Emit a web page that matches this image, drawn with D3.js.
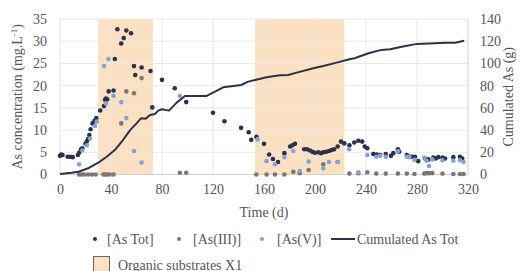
<!DOCTYPE html>
<html>
<head>
<meta charset="utf-8">
<script src="https://cdn.jsdelivr.net/npm/d3@7"></script>
<style>
  body { margin: 0; background: #fff; }
  text { font-family: "Liberation Serif", "Times New Roman", serif; }
</style>
</head>
<body>
<div id="chart"></div>
<script>
// --- DATA (day, value) ---
const asTot = [[0,4.2],[1,4.5],[2,4.4],[6,4.0],[8,4.0],[10,3.9],[14,4.4],[15,4.9],[16.5,5.7],[17.5,5.9],
  [20,6.9],[21,7.4],[22,8.0],[23,8.9],[24,10.2],[25.5,11.5],[27,12.1],[28.5,12.7],[31.5,14.4],[34.5,15.4],
  [35.3,16.8],[36,17.1],[37,16.9],[38.2,18.7],[42,18.9],[43,26],[45,32.7],[48,29.5],[50,30.7],[52,32.4],
  [55.7,31.8],[58,24.4],[59,22.4],[64,24.1],[71,23.3],[72.4,15.1],[80,21.3],[90,19.4],[99,16.3],[120,13.9],
  [129,12.0],[142,10.5],[148,9.5],[150,7.8],[154,8.5],[160,6.9],[164,4.5],[167,3.5],[171,2.8],[176,4.8],
  [180.5,6.3],[182.2,6.6],[184.3,6.9],[191.6,5.7],[193.7,5.7],[196,5.4],[198,5.1],[200,4.9],[202.6,5.0],
  [204.7,4.8],[206.5,5.0],[208.6,5.1],[211,5.3],[213,5.5],[215,5.7],[217.8,6.3],[220.4,7.4],[223,7.0],
  [227,6.6],[230.8,7.2],[234,7.6],[237,7.4],[239,6.3],[241,5.9],[245.7,4.6],[248.4,4.5],[251,4.4],
  [255.5,4.6],[259.6,4.2],[261.4,4.8],[265,5.7],[266,5.1],[272,4.4],[274.5,4.0],[276.3,4.0],[278.4,4.0],
  [281,3.0],[286.3,3.6],[288.9,3.4],[292.8,3.8],[294.7,3.6],[296.7,3.9],[300,3.8],[302,3.6],[308.5,3.9],
  [313.7,4.0],[315.5,3.6]];

const asIII = [[15,0],[17,0],[19,0],[22,0],[25,0],[28,0],[34,0],[35.5,0],[37,0],[39,0],[42,0],
  [48,11.5],[52,18.7],[58,18.3],[64,21.7],[94,0.4],[99,0.4],[154,0],[162,0],[168.6,0],[176,0],
  [183,0.6],[188,0.3],[195,1.0],[206.5,2.3],[217.8,2.8],[227,0.2],[234,0.3],[241,0.5],[248,0.2],
  [255.5,0.2],[265,0.2],[272,0.2],[278,0.1],[285.7,0.2],[287.6,0.3],[289.4,0.3],[292,0.3],[300,0.2],
  [308.5,0.1],[313.7,0.1],[316.5,0.1]];

const asV = [[15,2.3],[17.5,5.4],[21,6.6],[23.5,8.1],[27.5,10.9],[28.8,11.9],[34.5,24.4],[36,16.0],
  [38,26],[42,17.7],[48,16.3],[52,12.7],[58,5.3],[64,2.7],[94,17.7],[155,7.9],[162,3.0],[168.6,2.3],
  [176,3.9],[183,5.3],[188,0.8],[195,2.9],[206.5,1.4],[211,2.8],[217.8,2.8],[226.7,5.7],[234,0.5],
  [241,4.4],[248,4.0],[251,4.2],[255.5,4.0],[265,5.2],[272,4.0],[274,3.9],[278,3.3],[285.7,3.8],
  [287.6,3.1],[289.4,1.9],[292,3.4],[300,3.2],[308.5,3.1],[313.7,3.2],[316.5,2.8]];

const cumulated = [[0,0.4],[9,1.6],[14.6,2.5],[22,5.6],[30,10.6],[36.6,16],[43,22],[48.4,29.5],[55,40],
  [60,46],[63.5,50.6],[67.2,50.3],[70.6,53.6],[74.5,54.5],[77,57.5],[80,58.7],[85.5,57.5],[91.5,64.7],
  [98,70.7],[103,70.7],[115,70.7],[121.6,74.6],[128,78.5],[136,79.7],[142,80.6],[147.7,83.6],[153,85],
  [162,87.5],[172.5,89.3],[179,89.6],[185.6,91.7],[198.7,95.7],[206.5,97.7],[217,100.7],[227,103.8],
  [231,104.7],[242,109.2],[252,112.2],[259,112.8],[268,115.1],[280,117.6],[294,118.2],[302,118.7],
  [310,118.7],[317,120.5]];

const substratePeriods = [[30,73],[153,223]];
const xTicks = d3.range(0, 321, 40);
const yTicks = d3.range(0, 36, 5);
const y2Ticks = d3.range(0, 141, 20);

function drawChart() {
  // --- LAYOUT ---
  const W = 521, H = 271;
  const pLeft = 60, pRight = 468, pTop = 19, pBottom = 174.5;

  const svg = d3.select("#chart").append("svg").attr("width", W).attr("height", H);

  const x = d3.scaleLinear().domain([0, 320]).range([pLeft, pRight]);
  const y = d3.scaleLinear().domain([0, 35]).range([pBottom, pTop]);
  const y2 = d3.scaleLinear().domain([0, 140]).range([pBottom, pTop]);

  const cTot = "#2c3048", cIII = "#7d7672", cV = "#84a2d8", cShade = "#fbe0c1";

  // shaded periods
  svg.selectAll("rect.shade").data(substratePeriods).enter().append("rect")
    .attr("x", d => x(d[0])).attr("width", d => x(d[1]) - x(d[0]))
    .attr("y", pTop).attr("height", pBottom - pTop)
    .attr("fill", cShade);

  // gridlines
  svg.selectAll("line.hg").data(yTicks.slice(1)).enter().append("line")
    .attr("x1", pLeft).attr("x2", pRight)
    .attr("y1", d => y(d)).attr("y2", d => y(d))
    .attr("stroke", "#e8e8e8").attr("stroke-width", 1);
  svg.selectAll("line.vg").data(xTicks.slice(1, -1)).enter().append("line")
    .attr("y1", pTop).attr("y2", pBottom)
    .attr("x1", d => x(d)).attr("x2", d => x(d))
    .attr("stroke", "#e8e8e8").attr("stroke-width", 1);

  // axes frame
  svg.append("line").attr("x1", pLeft).attr("x2", pLeft).attr("y1", pTop).attr("y2", pBottom)
    .attr("stroke", "#e0e0e0");
  svg.append("line").attr("x1", pRight).attr("x2", pRight).attr("y1", pTop).attr("y2", pBottom)
    .attr("stroke", "#d0d0d0");
  svg.append("line").attr("x1", pLeft).attr("x2", pRight).attr("y1", pBottom).attr("y2", pBottom)
    .attr("stroke", "#d0d0d0");

  // tick labels
  const tickStyle = sel => sel.style("font-size", "14px").attr("fill", "#555");
  svg.append("g").attr("transform", `translate(${pLeft - 13},0)`)
    .call(d3.axisLeft(y).tickValues(yTicks).tickSize(0).tickPadding(0))
    .call(g => g.select(".domain").remove())
    .call(g => g.attr("font-family", null).selectAll("text").call(tickStyle));
  svg.append("g").attr("transform", `translate(${pRight + 12},0)`)
    .call(d3.axisRight(y2).tickValues(y2Ticks).tickSize(0).tickPadding(0))
    .call(g => g.select(".domain").remove())
    .call(g => g.attr("font-family", null).selectAll("text").call(tickStyle));
  svg.append("g").attr("transform", `translate(0,${pBottom + 10})`)
    .call(d3.axisBottom(x).tickValues(xTicks).tickSize(0).tickPadding(0))
    .call(g => g.select(".domain").remove())
    .call(g => g.attr("font-family", null).selectAll("text").call(tickStyle));

  // axis titles
  const yt = svg.append("text")
    .attr("transform", `translate(22,${(pTop + pBottom) / 2}) rotate(-90)`)
    .attr("text-anchor", "middle").style("font-size", "14px").attr("fill", "#555");
  yt.append("tspan").text("As concentration (mg.L");
  yt.append("tspan").attr("baseline-shift", "super").style("font-size", "9px").text("-1");
  yt.append("tspan").text(")");

  svg.append("text")
    .attr("transform", `translate(513,${(pTop + pBottom) / 2}) rotate(-90)`)
    .attr("text-anchor", "middle").style("font-size", "14px").attr("fill", "#555")
    .text("Cumulated As (g)");

  svg.append("text").attr("x", (pLeft + pRight) / 2).attr("y", 217)
    .attr("text-anchor", "middle").style("font-size", "14px").attr("fill", "#555")
    .text("Time (d)");

  // scatter series
  const dots = (data, c) => svg.append("g").selectAll("circle").data(data).enter().append("circle")
    .attr("cx", d => x(d[0])).attr("cy", d => y(d[1])).attr("r", 2.3).attr("fill", c);
  dots(asTot, cTot);
  dots(asIII, cIII);
  dots(asV, cV);

  // cumulated line (right axis)
  svg.append("path").datum(cumulated)
    .attr("fill", "none").attr("stroke", cTot).attr("stroke-width", 2)
    .attr("stroke-linejoin", "round")
    .attr("d", d3.line().x(d => x(d[0])).y(d => y2(d[1])));

  // --- LEGEND ---
  const legY = 239;
  const legItems = [
    { label: "[As Tot]", c: cTot, mx: 95, tx: 107 },
    { label: "[As(III)]", c: cIII, mx: 179, tx: 193 },
    { label: "[As(V)]", c: cV, mx: 262, tx: 277 }
  ];
  legItems.forEach(it => {
    svg.append("circle").attr("cx", it.mx).attr("cy", legY).attr("r", 2).attr("fill", it.c);
    svg.append("text").attr("x", it.tx).attr("y", legY + 5)
      .style("font-size", "14px").attr("fill", "#555").text(it.label);
  });
  svg.append("line").attr("x1", 331).attr("x2", 355).attr("y1", legY).attr("y2", legY)
    .attr("stroke", cTot).attr("stroke-width", 2);
  svg.append("text").attr("x", 357).attr("y", legY + 5)
    .style("font-size", "14px").attr("fill", "#555").text("Cumulated As Tot");

  svg.append("rect").attr("x", 93.5).attr("y", 256.5).attr("width", 16).attr("height", 16)
    .attr("fill", cShade).attr("stroke", "#666").attr("stroke-width", 1);
  svg.append("text").attr("x", 118).attr("y", 270)
    .style("font-size", "14px").attr("fill", "#555").text("Organic substrates X1");
}

drawChart();
</script>
</body>
</html>
